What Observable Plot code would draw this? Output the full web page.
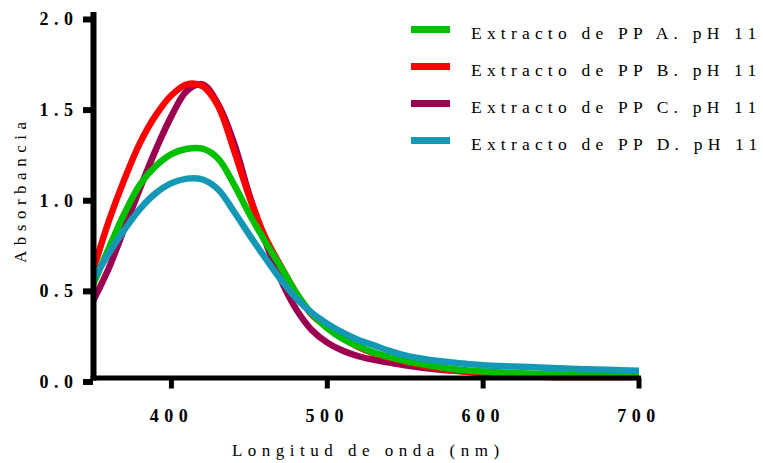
<!DOCTYPE html>
<html><head><meta charset="utf-8">
<script src="https://cdn.jsdelivr.net/npm/d3@7"></script>
<script src="https://cdn.jsdelivr.net/npm/@observablehq/plot@0.6"></script>
<style>
body{margin:0;background:#fff}
#chart{position:relative;width:763px;height:463px}
#chart svg{font-family:"Liberation Serif",serif;overflow:visible}
#chart svg text{letter-spacing:5.5px}
#legend{position:absolute;left:411px;top:15px;font-family:"Liberation Serif",serif;font-size:17.5px;color:#000}
#legend .row{display:flex;align-items:center;height:37px;white-space:nowrap}
#legend .sw{width:39px;height:6.5px;margin-right:21px;position:relative;top:-4px}
#legend .lb{letter-spacing:5.2px}
</style></head>
<body><div id="chart"></div>
<script>
const wavelength = [350,360,370,380,390,400,410,420,430,440,450,460,470,480,490,500,510,520,530,540,550,560,570,580,590,600,620,640,660,680,700];
const seriesA = [0.52,0.72,0.91,1.07,1.17,1.235,1.265,1.265,1.21,1.07,0.905,0.755,0.615,0.47,0.355,0.275,0.215,0.175,0.14,0.115,0.095,0.078,0.063,0.05,0.042,0.036,0.028,0.022,0.018,0.015,0.012];
const seriesB = [0.60,0.87,1.10,1.30,1.45,1.56,1.62,1.61,1.50,1.26,1.00,0.78,0.62,0.47,0.35,0.28,0.22,0.17,0.135,0.11,0.09,0.07,0.055,0.044,0.035,0.027,0.012,0.006,0.004,0.004,0.005];
const seriesC = [0.43,0.61,0.83,1.05,1.26,1.445,1.585,1.62,1.51,1.30,1.01,0.76,0.545,0.38,0.265,0.195,0.15,0.12,0.10,0.085,0.07,0.058,0.048,0.041,0.034,0.028,0.02,0.015,0.012,0.01,0.01];
const seriesD = [0.545,0.69,0.82,0.935,1.02,1.075,1.10,1.095,1.04,0.92,0.79,0.665,0.545,0.44,0.36,0.30,0.25,0.21,0.18,0.15,0.125,0.108,0.095,0.085,0.077,0.07,0.063,0.057,0.05,0.045,0.04];
const names = ["Extracto de PP A. pH 11","Extracto de PP B. pH 11","Extracto de PP C. pH 11","Extracto de PP D. pH 11"];
const colors = ["#00c000","#ff0000","#9c0050","#1598b6"];
const xTicks = [400,500,600,700];
const yTicks = [0,0.5,1.0,1.5,2.0];
const xLabel = "Longitud de onda (nm)";
const yLabel = "Absorbancia";

const allSeries = [seriesA, seriesB, seriesC, seriesD];
// drawing order: C, B, A, D
const order = [2,1,0,3];
const rows = order.flatMap(k => wavelength.map((w,i) => ({w, a: allSeries[k][i], name: names[k]})));

const chart = Plot.plot({
  width: 763, height: 463,
  marginLeft: 93, marginRight: 124.5, marginTop: 15, marginBottom: 85.5,
  style: {fontFamily: "Liberation Serif", background: "#fff"},
  x: {domain: [350, 700]},
  y: {domain: [0, 2]},
  color: {domain: names, range: colors},
  marks: [
    Plot.line(rows, {x: "w", y: "a", z: "name", stroke: "name", strokeWidth: 6.5, curve: "catmull-rom", strokeLinecap: "butt"}),
    Plot.ruleX([350], {y1: 0, y2: 2, strokeWidth: 6, stroke: "#000", strokeLinecap: "square"}),
    Plot.ruleY([0], {x1: 350, x2: 700, strokeWidth: 5, stroke: "#000", strokeLinecap: "square"}),
    Plot.axisY({ticks: yTicks, tickSize: 10, tickPadding: 5, strokeWidth: 6, stroke: "#000", tickFormat: d3.format(".1f"), fontSize: 18, fontWeight: "bold", fill: "#000", label: null, dy: 4}),
    Plot.axisX({ticks: xTicks, tickSize: 11, tickPadding: 20, strokeWidth: 5, stroke: "#000", tickFormat: d => String(d), fontSize: 18, fontWeight: "bold", fill: "#000", label: null}),
    Plot.text([xLabel], {frameAnchor: "bottom", dy: 78, dx: 2, fontSize: 17, fill: "#000", fontFamily: "Liberation Serif"}),
    Plot.text([yLabel], {frameAnchor: "left", textAnchor: "middle", dx: -73, dy: -7, rotate: -90, fontSize: 17, fill: "#000", fontFamily: "Liberation Serif"})
  ]
});
const host = document.getElementById("chart");
host.appendChild(chart);
const legend = document.createElement("div");
legend.id = "legend";
names.forEach((n, i) => {
  const r = document.createElement("div"); r.className = "row";
  const s = document.createElement("span"); s.className = "sw"; s.style.background = colors[i];
  const t = document.createElement("span"); t.className = "lb"; t.textContent = n;
  r.appendChild(s); r.appendChild(t); legend.appendChild(r);
});
host.appendChild(legend);
</script></body></html>
